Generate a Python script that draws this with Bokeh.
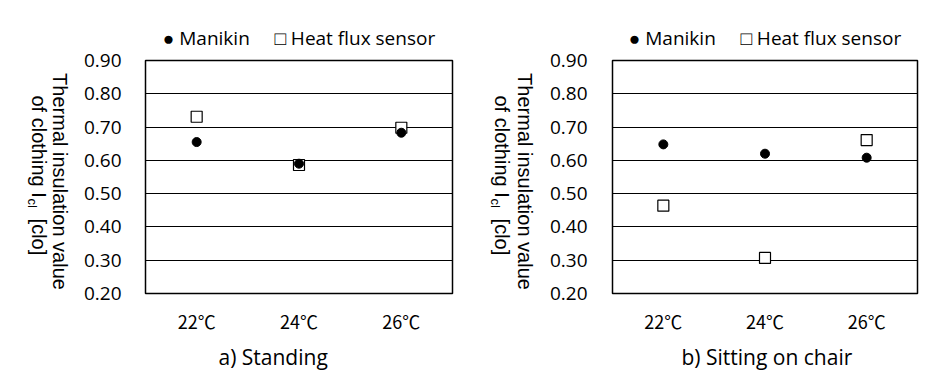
import math
from bokeh.plotting import figure
from bokeh.models import (FactorRange, Range1d, FixedTicker, Label,
                          NumeralTickFormatter, Title)
from bokeh.layouts import row
from bokeh.embed import file_html
from bokeh.resources import INLINE

# ---- data ----
categories = ["22℃", "24℃", "26℃"]
y_ticks = [0.2, 0.3, 0.4, 0.5, 0.6, 0.7, 0.8, 0.9]
standing_manikin = [0.655, 0.590, 0.683]
standing_heat_flux = [0.731, 0.586, 0.698]
sitting_manikin = [0.648, 0.620, 0.608]
sitting_heat_flux = [0.464, 0.307, 0.661]
series_names = ["Manikin", "Heat flux sensor"]
legend_symbols = ["\u25cf", "\u25a1"]
panel_titles = ["a) Standing", "b) Sitting on chair"]
y_label_line1 = "Thermal insulation value"
y_label_line2 = ["of clothing I", "cl", "  [clo]"]

FONT = "Open Sans"
CJK_FONT = "Noto Sans CJK JP"
LABEL_FONT = "Liberation Sans"
H = 381
TOP = 60
BOTTOM = 88
FRAME_BOTTOM = H - BOTTOM  # screen y of frame bottom
NB = "\u00a0"


def make_strip(width, x1, x2):
    """Narrow area holding the clockwise-rotated y-axis title."""
    s = figure(width=width, height=H, x_range=Range1d(0, 1), y_range=Range1d(0, 1),
               x_axis_location=None, y_axis_location=None,
               min_border_left=0, min_border_right=0,
               min_border_top=TOP, min_border_bottom=BOTTOM,
               output_backend="svg", toolbar_location=None)
    s.outline_line_color = None
    for g in list(s.center):
        g.visible = False
    common = dict(x_units="screen", y_units="screen", angle=-math.pi / 2,
                  text_baseline="middle", text_font=LABEL_FONT, text_color="black")
    s.add_layout(Label(x=x1, y=FRAME_BOTTOM - 181, text=y_label_line1,
                       text_align="center", text_font_size="20px", **common))
    y0 = FRAME_BOTTOM - 95
    s.add_layout(Label(x=x2, y=y0, text=y_label_line2[0], text_align="left",
                       text_font_size="20px", **common))
    s.add_layout(Label(x=x2 - 6, y=y0 - 103, text=y_label_line2[1], text_align="left",
                       text_font_size="13px", **common))
    s.add_layout(Label(x=x2, y=y0 - 112, text=y_label_line2[2].replace(" ", NB),
                       text_align="left", text_font_size="20px", **common))
    return s


def make_panel(manikin, heat, title, width, bl, br, ystandoff, title_offset):
    legend_text = (legend_symbols[0] + NB + series_names[0] + NB * 5 +
                   legend_symbols[1] + NB + series_names[1])
    p = figure(width=width, height=H,
               x_range=FactorRange(factors=categories),
               y_range=Range1d(0.2, 0.9),
               output_backend="svg", toolbar_location=None,
               min_border_left=bl, min_border_right=br,
               min_border_top=TOP, min_border_bottom=BOTTOM)
    p.background_fill_color = "white"
    p.border_fill_color = "white"
    p.outline_line_color = "black"
    p.outline_line_width = 1.5

    # legend line (symbols + series names) above the frame
    p.title.text = legend_text
    p.title.align = "center"
    p.title.text_font = FONT
    p.title.text_font_size = "19px"
    p.title.text_font_style = "normal"
    p.title.text_color = "black"
    p.title.standoff = 19

    # axes
    p.xaxis.axis_line_color = None
    p.xaxis.major_tick_line_color = None
    p.xaxis.minor_tick_line_color = None
    p.xaxis.major_label_standoff = 8
    p.xaxis.major_label_text_font = CJK_FONT
    p.xaxis.major_label_text_font_size = "18px"
    p.xaxis.major_label_text_color = "black"

    p.yaxis.ticker = FixedTicker(ticks=y_ticks)
    p.yaxis.formatter = NumeralTickFormatter(format="0.00")
    p.yaxis.axis_line_color = None
    p.yaxis.major_tick_line_color = None
    p.yaxis.minor_tick_line_color = None
    p.yaxis.major_tick_out = 0
    p.yaxis.major_tick_in = 0
    p.yaxis.major_label_standoff = ystandoff
    p.yaxis.major_label_text_font = FONT
    p.yaxis.major_label_text_font_size = "19px"
    p.yaxis.major_label_text_color = "black"

    p.xgrid.grid_line_color = None
    p.ygrid.ticker = FixedTicker(ticks=y_ticks)
    p.ygrid.grid_line_color = "black"
    p.ygrid.grid_line_width = 1

    # data
    p.scatter(x=categories, y=heat, marker="square", size=11,
              fill_color="white", line_color="black", line_width=1.2)
    p.scatter(x=categories, y=manikin, marker="circle", size=9,
              fill_color="black", line_color="black")

    p.add_layout(Title(text=title, align="left", offset=title_offset, standoff=8,
                       text_font=FONT, text_font_size="21px",
                       text_font_style="normal", text_color="black"), "below")
    return p


strip1 = make_strip(80, 59, 38)
p1 = make_panel(standing_manikin, standing_heat_flux, panel_titles[0],
                386, 65, 14, 24, 73)
strip2 = make_strip(80, 58, 35)
p2 = make_panel(sitting_manikin, sitting_heat_flux, panel_titles[1],
                386, 64, 15, 25, 69)

layout = row(strip1, p1, strip2, p2, spacing=0)
open("out.html", "w").write(file_html(layout, INLINE))
